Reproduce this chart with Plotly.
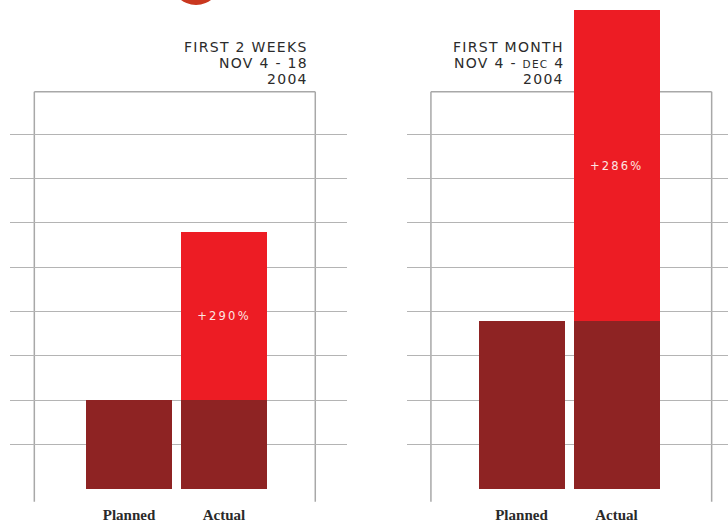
import plotly.graph_objects as go

# --- data -------------------------------------------------------------
categories = ["Planned", "Actual"]
planned = [2.0, 3.78]          # planned volume per period (grid units)
actual = [5.8, 10.81]          # actual volume per period (grid units)
period_titles = ["FIRST 2 WEEKS", "FIRST MONTH"]
period_ranges = ["NOV 4 - 18", "NOV 4 - <span style='font-size:10.5px'>DEC</span> 4"]
period_years = ["2004", "2004"]
grid_levels = [0, 1, 2, 3, 4, 5, 6, 7, 8]

# --- page geometry ----------------------------------------------------
W, H = 728, 522
BASE_PX = 489            # pixel row of the baseline
UNIT_PX = 44.34          # pixels per grid unit

DARK = "#8e2323"
RED = "#ed1c24"
GRID = "#b4b4b4"
FRAME = "#a8a8a8"
INK = "#2b2b2b"


def spaced(text, px):
    """Wrap text in a letter-spaced span (engraved-caps look)."""
    return f"<span style='letter-spacing:{px}px'>{text}</span>"


panels = [
    # x-axis domain in px, category range, frame edges (category units), header anchor px
    dict(dom=(10, 347), rng=(-1.253, 2.295), frame=(-0.997, 1.961), head_x=309.5),
    dict(dom=(406.7, 728), rng=(-1.208, 2.174), frame=(-0.953, 2.002), head_x=565.5),
]

fig = go.Figure()

frame_top_units = 8.96
frame_top_paper = 1 - (BASE_PX - frame_top_units * UNIT_PX) / H
frame_bottom_paper = (H - 501.7) / H

for i, p in enumerate(panels):
    xa = "x" if i == 0 else f"x{i+1}"
    ya = "y" if i == 0 else f"y{i+1}"
    gain = round(actual[i] / planned[i] * 100)
    # planned amount (dark) shown under both bars
    fig.add_trace(go.Bar(
        x=categories, y=[planned[i], planned[i]],
        marker=dict(color=DARK, line=dict(width=0)),
        width=0.91, xaxis=xa, yaxis=ya, hoverinfo="skip",
    ))
    # growth over plan (bright red) on the actual bar
    fig.add_trace(go.Bar(
        x=categories, y=[0, actual[i] - planned[i]],
        marker=dict(color=RED, line=dict(width=0)),
        width=0.91, xaxis=xa, yaxis=ya, hoverinfo="skip",
        text=["", spaced(f"+{gain}%", 2.2)], textposition="inside",
        insidetextanchor="middle", constraintext="none", textangle=0,
        insidetextfont=dict(family="DejaVu Sans", size=11.5, color="#fde6e3"),
    ))

    # frame around each panel (verticals run a little below the baseline)
    x0, x1 = p["frame"]
    for sx0, sy0, sx1, sy1 in [
        (x0, frame_bottom_paper, x0, frame_top_paper),
        (x1, frame_bottom_paper, x1, frame_top_paper),
        (x0, frame_top_paper, x1, frame_top_paper),
    ]:
        fig.add_shape(type="line", xref=xa, yref="paper", x0=sx0, y0=sy0, x1=sx1, y1=sy1,
                      line=dict(color=FRAME, width=1.5), layer="below")

    # period header, right aligned
    for text, py in [(period_titles[i], 47), (period_ranges[i], 63), (period_years[i], 79)]:
        fig.add_annotation(
            x=p["head_x"] / W, y=1 - py / H, xref="paper", yref="paper",
            text=spaced(text, 1.3), showarrow=False, xanchor="right", yanchor="middle",
            font=dict(family="DejaVu Sans", size=14, color=INK),
        )

# logo disc peeking in at the top edge
fig.add_shape(type="circle", xref="paper", yref="paper",
              x0=(196 - 25) / W, x1=(196 + 25) / W,
              y0=1 - 5 / H, y1=1 + 45 / H,
              fillcolor="#c9371f", line=dict(width=0))

y_dom = [(H - BASE_PX) / H, 1]
y_top = BASE_PX / UNIT_PX

layout = dict(
    width=W, height=H,
    margin=dict(l=0, r=0, t=0, b=0),
    paper_bgcolor="white", plot_bgcolor="white",
    barmode="stack", bargap=0, showlegend=False,
)
for i, p in enumerate(panels):
    sx = "" if i == 0 else str(i + 1)
    layout[f"xaxis{sx}"] = dict(
        domain=[p["dom"][0] / W, p["dom"][1] / W], range=list(p["rng"]),
        anchor=f"y{sx}", showgrid=False, zeroline=False, showline=False,
        ticks="", ticklabelstandoff=15, automargin=False, fixedrange=True,
        tickfont=dict(family="Liberation Serif", size=15, color="#2a2a2a", weight="bold"),
    )
    layout[f"yaxis{sx}"] = dict(
        domain=y_dom, range=[0, y_top], anchor=f"x{sx}",
        tickvals=grid_levels, showticklabels=False, ticks="",
        showgrid=True, gridcolor=GRID, gridwidth=1.3,
        zeroline=False, showline=False, automargin=False, fixedrange=True,
    )

fig.update_layout(**layout)
fig.write_html("out.html")
